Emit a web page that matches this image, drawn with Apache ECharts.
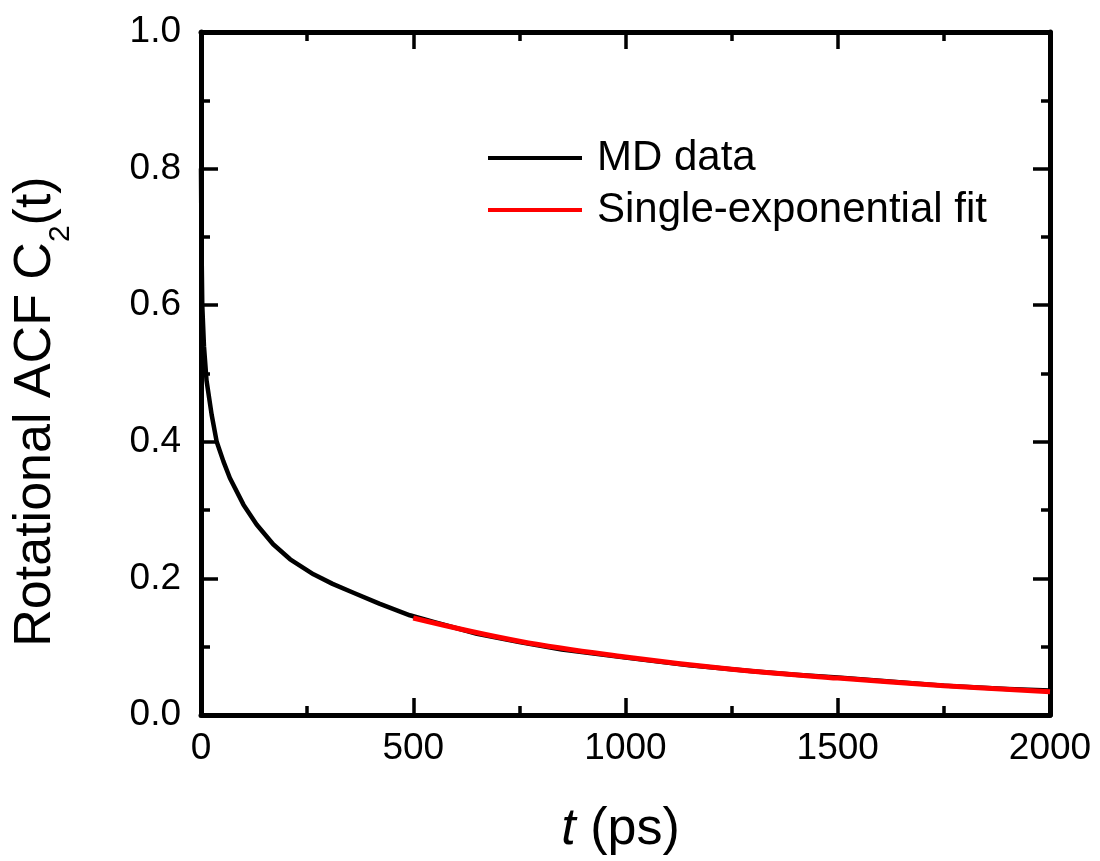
<!DOCTYPE html>
<html>
<head>
<meta charset="utf-8">
<script src="https://cdn.jsdelivr.net/npm/echarts@6/dist/echarts.min.js"></script>
<style>
  html, body { margin: 0; padding: 0; background: #fff; }
  #chart { width: 1100px; height: 861px; }
</style>
</head>
<body>
<div id="chart"></div>
<script>
// MD data: rotational ACF
const mdTime = [0, 1, 3, 7, 13, 25, 37, 53, 68, 100, 131, 170, 210, 265, 310, 359, 420, 492,
  550, 650, 750, 850, 1000, 1150, 1300, 1400, 1500, 1600, 1750, 1900, 2000];
const mdValue = [0.80, 0.70, 0.60, 0.54, 0.49, 0.44, 0.40, 0.371, 0.347, 0.308, 0.279, 0.25, 0.228, 0.206, 0.192, 0.179, 0.163, 0.146,
  0.136, 0.119, 0.107, 0.096, 0.084, 0.073, 0.064, 0.059, 0.055, 0.050, 0.043, 0.038, 0.036];

// single-exponential fit, from t = 500 ps
const fitTime = [500, 750, 1000, 1250, 1500, 1750, 2000];
const fitValue = [0.142, 0.108, 0.085, 0.067, 0.054, 0.043, 0.034];

const xTicks = [0, 500, 1000, 1500, 2000];
const yTicks = [0, 0.2, 0.4, 0.6, 0.8, 1.0];

const chart = echarts.init(document.getElementById('chart'));
const font = 'Liberation Sans, Arial, sans-serif';

const frameLine = { show: true, onZero: false, lineStyle: { color: '#000', width: 5 } };
const majorTick = { show: true, inside: true, length: 17, lineStyle: { color: '#000', width: 3.5 } };
const minorTick = { show: true, splitNumber: 2, length: 9, lineStyle: { color: '#000', width: 3.5 } };

const pairs = (xs, ys) => xs.map((x, i) => [x, ys[i]]);

const option = {
  backgroundColor: '#fff',
  animation: false,
  textStyle: { fontFamily: font },
  grid: { left: 201, right: 50, top: 32, bottom: 143 },
  legend: {
    left: 488,
    top: 137,
    padding: 0,
    orient: 'vertical',
    itemWidth: 94,
    itemHeight: 4,
    itemGap: 10,
    icon: 'rect',
    textStyle: { fontSize: 42, lineHeight: 42, color: '#000', fontFamily: font, padding: [0, 0, 0, 10] },
    data: ['MD data', 'Single-exponential fit']
  },
  xAxis: [{
    type: 'value',
    min: xTicks[0],
    max: xTicks[xTicks.length - 1],
    interval: 500,
    position: 'bottom',
    axisLine: frameLine,
    axisTick: majorTick,
    minorTick: minorTick,
    splitLine: { show: false },
    axisLabel: { fontSize: 37, color: '#000', margin: 15, fontFamily: font, formatter: v => String(v) },
    name: '{i|t}{n| (ps)}',
    nameLocation: 'middle',
    nameGap: 89,
    nameTextStyle: {
      padding: [0, 10, 0, 0],
      rich: {
        i: { fontSize: 52, fontStyle: 'italic', color: '#000', fontFamily: font },
        n: { fontSize: 52, color: '#000', fontFamily: font }
      }
    }
  }, {
    type: 'value',
    min: xTicks[0],
    max: xTicks[xTicks.length - 1],
    interval: 500,
    position: 'top',
    axisLine: frameLine,
    axisTick: majorTick,
    minorTick: minorTick,
    splitLine: { show: false },
    axisLabel: { show: false }
  }],
  yAxis: [{
    type: 'value',
    min: yTicks[0],
    max: yTicks[yTicks.length - 1],
    interval: 0.2,
    position: 'left',
    axisLine: frameLine,
    axisTick: majorTick,
    minorTick: minorTick,
    splitLine: { show: false },
    axisLabel: {
      fontSize: 37, color: '#000', margin: 20, fontFamily: font,
      formatter: v => v.toFixed(1)
    },
    name: '{n|Rotational ACF C}{s|2}{n|(t)}',
    nameLocation: 'middle',
    nameGap: 125,
    nameRotate: 90,
    nameTextStyle: {
      padding: [0, 76, 0, 0],
      rich: {
        n: { fontSize: 52, color: '#000', fontFamily: font },
        s: { fontSize: 30, color: '#000', fontFamily: font, padding: [50, 0, 0, 0] }
      }
    }
  }, {
    type: 'value',
    min: yTicks[0],
    max: yTicks[yTicks.length - 1],
    interval: 0.2,
    position: 'right',
    axisLine: frameLine,
    axisTick: majorTick,
    minorTick: minorTick,
    splitLine: { show: false },
    axisLabel: { show: false }
  }],
  series: [{
    name: 'MD data',
    type: 'line',
    data: pairs(mdTime, mdValue),
    smooth: false,
    showSymbol: false,
    color: '#000',
    lineStyle: { color: '#000', width: 4.5, join: 'round' },
    z: 2
  }, {
    name: 'Single-exponential fit',
    type: 'line',
    data: pairs(fitTime, fitValue),
    smooth: 0.4,
    showSymbol: false,
    color: '#ff0000',
    lineStyle: { color: '#ff0000', width: 5 },
    z: 3
  }]
};

chart.setOption(option);
</script>
</body>
</html>
